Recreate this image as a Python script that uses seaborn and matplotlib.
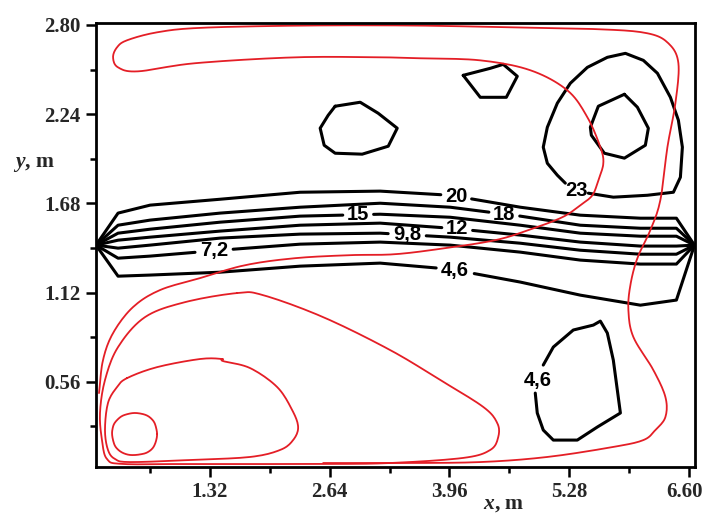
import numpy as np
import pandas as pd
import matplotlib
matplotlib.use('Agg')
import matplotlib.pyplot as plt
from matplotlib.transforms import ScaledTranslation
import seaborn as sns

sns.set_style('white')
plt.rcParams['font.family'] = ['Liberation Serif', 'DejaVu Serif']
plt.rcParams['mathtext.fontset'] = 'custom'
plt.rcParams['mathtext.rm'] = 'Liberation Serif:bold'
plt.rcParams['mathtext.it'] = 'Liberation Serif:italic:bold'

# ---------------- data (x, y in metres) ----------------
x_ticks = [1.32, 2.64, 3.96, 5.28, 6.60]
y_ticks = [0.56, 1.12, 1.68, 2.24, 2.80]
x_minor = [0.66, 1.98, 3.30, 4.62, 5.94]
y_minor = [0.28, 0.84, 1.40, 1.96, 2.52]

# black isolines of the horizontal band (shared x positions)
band_x = [0.066, 0.309, 0.662, 1.433, 2.315, 3.197, 3.969, 4.741, 5.402, 6.064, 6.461, 6.660]
iso_20 = [1.418, 1.619, 1.669, 1.706, 1.750, 1.757, 1.731, 1.656, 1.606, 1.587, 1.587, 1.418]
iso_18 = [1.418, 1.543, 1.575, 1.619, 1.656, 1.681, 1.656, 1.600, 1.543, 1.524, 1.524, 1.418]
iso_15 = [1.418, 1.493, 1.518, 1.562, 1.600, 1.612, 1.593, 1.543, 1.493, 1.474, 1.474, 1.418]
iso_12 = [1.418, 1.449, 1.468, 1.506, 1.543, 1.556, 1.524, 1.481, 1.437, 1.412, 1.412, 1.418]
iso_98 = [1.418, 1.399, 1.418, 1.462, 1.487, 1.493, 1.468, 1.430, 1.386, 1.361, 1.361, 1.418]
iso_72 = [1.418, 1.336, 1.349, 1.386, 1.424, 1.437, 1.418, 1.374, 1.324, 1.299, 1.299, 1.418]
iso_46 = [1.418, 1.223, 1.230, 1.248, 1.286, 1.305, 1.267, 1.186, 1.104, 1.041, 1.073, 1.418]
band_labels = ['20', '18', '15', '12', '9,8', '7,2', '4,6']
band_label_x = [4.035, 4.565, 2.955, 4.046, 3.495, 1.367, 4.024]

# black closed / open isolines
iso23_x = [5.491, 5.766, 6.141, 6.428, 6.505, 6.527, 6.483, 6.395, 6.252, 6.097, 5.899, 5.700,
           5.480, 5.292, 5.149, 5.039, 4.994, 5.039, 5.149, 5.237]
iso23_y = [1.744, 1.719, 1.731, 1.750, 1.844, 2.033, 2.202, 2.346, 2.497, 2.578, 2.622, 2.597,
           2.534, 2.434, 2.309, 2.158, 2.033, 1.932, 1.857, 1.807]
peak_x = [5.888, 6.031, 6.152, 6.119, 5.888, 5.667, 5.524, 5.513, 5.601, 5.888]
peak_y = [2.365, 2.284, 2.152, 2.045, 1.964, 1.995, 2.108, 2.158, 2.290, 2.365]
small_x = [4.112, 4.410, 4.553, 4.708, 4.587, 4.300, 4.112]
small_y = [2.484, 2.528, 2.553, 2.478, 2.346, 2.346, 2.484]
blob_x = [2.701, 2.977, 3.175, 3.385, 3.286, 2.999, 2.701, 2.580, 2.536, 2.624, 2.701]
blob_y = [2.290, 2.315, 2.246, 2.152, 2.039, 1.989, 1.995, 2.045, 2.152, 2.233, 2.290]
low46_x = [4.994, 5.105, 5.325, 5.546, 5.623, 5.700, 5.766, 5.844, 5.590, 5.369, 5.105, 4.994, 4.928, 4.906]
low46_y = [0.665, 0.778, 0.885, 0.916, 0.941, 0.866, 0.696, 0.364, 0.276, 0.194, 0.194, 0.257, 0.364, 0.489]

# red stream lines
redA_x = [0.099, 0.143, 0.254, 0.474, 0.772, 1.213, 1.709, 2.260, 2.867, 3.363, 3.914, 4.465, 4.829,
          5.204, 5.402, 5.535, 5.601, 5.656, 5.623, 5.480, 5.259, 4.851, 4.300, 3.638, 3.197, 2.260,
          1.158, 0.529, 0.309, 0.254, 0.298, 0.408, 0.739, 1.213, 2.300, 3.473, 4.520, 5.623, 6.141,
          6.373, 6.483, 6.450, 6.362, 6.284, 6.174, 6.031, 5.954, 5.932, 5.987, 6.207, 6.340, 6.340,
          6.229, 6.097, 5.766, 5.039, 4.300, 3.418, 2.569]
redA_y = [0.489, 0.696, 0.866, 1.029, 1.136, 1.211, 1.292, 1.336, 1.355, 1.361, 1.399, 1.449, 1.512,
          1.593, 1.669, 1.731, 1.826, 1.932, 2.033, 2.221, 2.390, 2.516, 2.578, 2.591, 2.597, 2.597,
          2.560, 2.509, 2.534, 2.597, 2.660, 2.704, 2.754, 2.782, 2.796, 2.797, 2.787, 2.773, 2.748,
          2.685, 2.560, 2.309, 2.033, 1.700, 1.512, 1.336, 1.167, 1.010, 0.841, 0.634, 0.464, 0.339,
          0.257, 0.194, 0.151, 0.088, 0.056, 0.050, 0.050]
redB_x = [1.621, 1.907, 2.569, 3.308, 3.859, 4.333, 4.487, 4.498, 4.410, 4.112, 3.308, 2.569, 1.103,
          0.364, 0.187, 0.132, 0.110, 0.165, 0.309, 0.606, 1.047, 1.621]
redB_y = [1.117, 1.104, 0.966, 0.759, 0.571, 0.402, 0.301, 0.213, 0.132, 0.082, 0.050, 0.044, 0.044,
          0.044, 0.075, 0.194, 0.364, 0.571, 0.778, 0.966, 1.060, 1.117]
redC_x = [0.408, 0.739, 1.213, 1.455, 1.466, 1.764, 2.062, 2.227, 2.293, 2.238, 2.095, 1.764, 1.103,
          0.441, 0.276, 0.198, 0.165, 0.198, 0.298, 0.408]
redC_y = [0.583, 0.652, 0.703, 0.703, 0.690, 0.646, 0.527, 0.383, 0.276, 0.194, 0.132, 0.088, 0.069,
          0.056, 0.075, 0.132, 0.257, 0.427, 0.527, 0.583]
redD_x = [0.739, 0.728, 0.706, 0.665, 0.617, 0.551, 0.485, 0.419, 0.353, 0.302, 0.265, 0.248, 0.243,
          0.254, 0.276, 0.315, 0.364, 0.424, 0.485, 0.551, 0.617, 0.671, 0.706, 0.730, 0.739]
redD_y = [0.232, 0.272, 0.307, 0.334, 0.351, 0.361, 0.364, 0.358, 0.345, 0.322, 0.295, 0.264, 0.232,
          0.193, 0.157, 0.131, 0.113, 0.102, 0.100, 0.104, 0.113, 0.132, 0.157, 0.194, 0.232]

# ---------------- helpers (rendering only) ----------------
def split(xs, ys, xc, hw):
    xs = np.asarray(xs, float)
    ys = np.asarray(ys, float)
    lm = xs < xc - hw
    rm = xs > xc + hw
    xl = np.append(xs[lm], xc - hw)
    yl = np.append(ys[lm], np.interp(xc - hw, xs, ys))
    xr = np.insert(xs[rm], 0, xc + hw)
    yr = np.insert(ys[rm], 0, np.interp(xc + hw, xs, ys))
    return (xl, yl), (xr, yr)


def smooth_path(xs, ys, n=10, closed=False):
    """Catmull-Rom rendering of a hand-read stream line (drawing style only)."""
    P = np.column_stack([xs, ys]).astype(float)
    if closed:
        P = P[:-1]
        pts = np.vstack([P[-1], P, P[0], P[1]])
    else:
        pts = np.vstack([2 * P[0] - P[1], P, 2 * P[-1] - P[-2]])
    out = []
    t = np.linspace(0, 1, n, endpoint=False)[:, None]
    for i in range(1, len(pts) - 2):
        p0, p1, p2, p3 = pts[i - 1], pts[i], pts[i + 1], pts[i + 2]
        seg = 0.5 * (2 * p1 + (-p0 + p2) * t + (2 * p0 - 5 * p1 + 4 * p2 - p3) * t ** 2
                     + (-p0 + 3 * p1 - 3 * p2 + p3) * t ** 3)
        out.append(seg)
    out.append(pts[-2][None, :])
    out = np.vstack(out)
    return out[:, 0], out[:, 1]


black_rows = []
red_rows = []


def add(rows, xs, ys, seg):
    for a, b in zip(xs, ys):
        rows.append({'x': a, 'y': b, 'seg': seg})


band_lines = [iso_20, iso_18, iso_15, iso_12, iso_98, iso_72, iso_46]
label_pos = []
for i, (yy, lab, lx) in enumerate(zip(band_lines, band_labels, band_label_x)):
    hw = 0.17 if len(lab) == 2 else 0.21
    (xl, yl), (xr, yr) = split(band_x, yy, lx, hw)
    add(black_rows, xl, yl, f'b{i}a')
    add(black_rows, xr, yr, f'b{i}b')
    label_pos.append((lx, float(np.interp(lx, band_x, yy)), lab))

add(black_rows, iso23_x, iso23_y, 'i23')
add(black_rows, peak_x, peak_y, 'peak')
add(black_rows, small_x, small_y, 'small')
add(black_rows, blob_x, blob_y, 'blob')
add(black_rows, low46_x, low46_y, 'low46')

add(red_rows, *smooth_path(redA_x, redA_y), 'A')
add(red_rows, *smooth_path(redB_x, redB_y, closed=True), 'B')
add(red_rows, *smooth_path(redC_x, redC_y, closed=True), 'C')
add(red_rows, *smooth_path(redD_x, redD_y, closed=True), 'D')

df_black = pd.DataFrame(black_rows)
df_red = pd.DataFrame(red_rows)

# ---------------- figure ----------------
fig = plt.figure(figsize=(7.04, 5.13), dpi=100)
ax = fig.add_axes([96 / 704, 46 / 513, 599 / 704, 444 / 513])

sns.lineplot(data=df_black, x='x', y='y', units='seg', estimator=None, sort=False,
             color='black', linewidth=2.2, ax=ax, legend=False)
sns.lineplot(data=df_red, x='x', y='y', units='seg', estimator=None, sort=False,
             color='#e41e26', linewidth=1.3, ax=ax, legend=False)

lab_font = dict(family=['Liberation Sans', 'DejaVu Sans'], fontsize=14.5, fontweight='bold',
                ha='center', va='center', color='black')
for lx, ly, lab in label_pos:
    ax.text(lx, ly, lab, **lab_font)
ax.text(5.358, 1.763, '23', **lab_font)
ax.text(4.928, 0.565, '4,6', **lab_font)

ax.set_xlim(0.066, 6.666)
ax.set_ylim(0.025, 2.8125)
ax.set_xticks(x_ticks)
ax.set_xticklabels([f'{v:.2f}' for v in x_ticks], fontweight='bold', fontsize=15)
ax.set_yticks(y_ticks)
ax.set_yticklabels([f'{v:.2f}' for v in y_ticks], fontweight='bold', fontsize=15)
ax.set_xticks(x_minor, minor=True)
ax.set_yticks(y_minor, minor=True)
ax.tick_params(which='both', bottom=True, left=True, top=False, right=False,
               direction='out', color='black', width=1.8)
ax.tick_params(which='major', length=7, pad=4)
ax.tick_params(which='minor', length=4.5)
ax.set_xlabel('')
ax.set_ylabel('')
for s in ax.spines.values():
    s.set_visible(True)
    s.set_linewidth(2.0)
    s.set_color('black')

# keep the last x tick label inside the canvas
last = ax.get_xticklabels()[-1]
last.set_transform(last.get_transform() + ScaledTranslation(-5 / 100, 0, fig.dpi_scale_trans))

fig.text(13 / 704, (513 - 167) / 513, r'$y$, m', fontsize=15.5, fontweight='bold',
         family='Liberation Serif', va='baseline', ha='left')
fig.text(483 / 704, 4 / 513, r'$x$, m', fontsize=15.5, fontweight='bold',
         family='Liberation Serif', va='baseline', ha='left')

fig.savefig('out.png', dpi=100)
